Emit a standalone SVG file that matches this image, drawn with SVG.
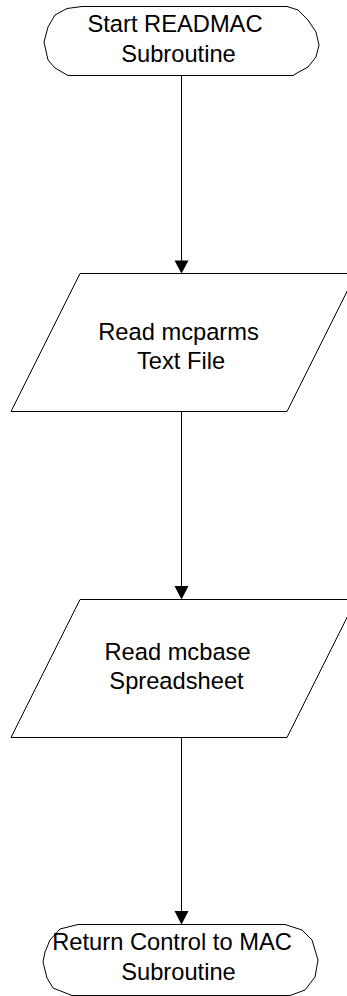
<svg xmlns="http://www.w3.org/2000/svg" width="347" height="996" viewBox="0 0 347 996">
<style>
.shape{fill:#fff;stroke:#000;stroke-width:1}
.conn{stroke:#000;stroke-width:1;fill:none}
.head{fill:#000;stroke:none}
.lbl{font-family:"Liberation Sans",Arial,sans-serif;font-size:23.7px;fill:#000;text-anchor:middle}
</style>
<rect width="347" height="996" fill="#fff"/>
<g id="connectors">
<line class="conn" x1="181.5" y1="75" x2="181.5" y2="262"/>
<polygon class="head" points="174.5,260.5 188.5,260.5 181.5,273.5"/>
<line class="conn" x1="181.5" y1="412" x2="181.5" y2="588"/>
<polygon class="head" points="174.5,586 188.5,586 181.5,599.5"/>
<line class="conn" x1="181.5" y1="737" x2="181.5" y2="912"/>
<polygon class="head" points="174.5,911 188.5,911 181.5,924.5"/>
</g>
<g id="start">
<path class="shape" d="M82,6.5 L287,6.5 L298,10 L308,20 L316,32 L319,45 L316,57 L308,67 L297,73 L293,75.5 L68,75.5 L55,68 L48,60 L44,42 L48,27 L55,15 L67,8.5 Z"/>
<text class="lbl" x="175" y="31.5">Start READMAC</text>
<text class="lbl" x="178.5" y="62">Subroutine</text>
</g>
<g id="read-mcparms">
<polygon class="shape" points="80,273.5 356,273.5 287,411.5 11,411.5"/>
<text class="lbl" x="178.5" y="339.5">Read mcparms</text>
<text class="lbl" x="181" y="368.5">Text File</text>
</g>
<g id="read-mcbase">
<polygon class="shape" points="80,599.5 356,599.5 287,737.5 11,737.5"/>
<text class="lbl" x="177.5" y="660">Read mcbase</text>
<text class="lbl" x="176.5" y="689">Spreadsheet</text>
</g>
<g id="return">
<path class="shape" d="M78,924.5 L285,924.5 L302,930 L312,940 L318,960 L315,977 L305,990 L290,995.5 L72,995.5 L53,988 L47,978 L43,962 L45,952 L50,940 L60,929 Z"/>
<text class="lbl" x="172" y="949.5">Return Control to MAC</text>
<text class="lbl" x="178.5" y="979.5">Subroutine</text>
</g>
</svg>
